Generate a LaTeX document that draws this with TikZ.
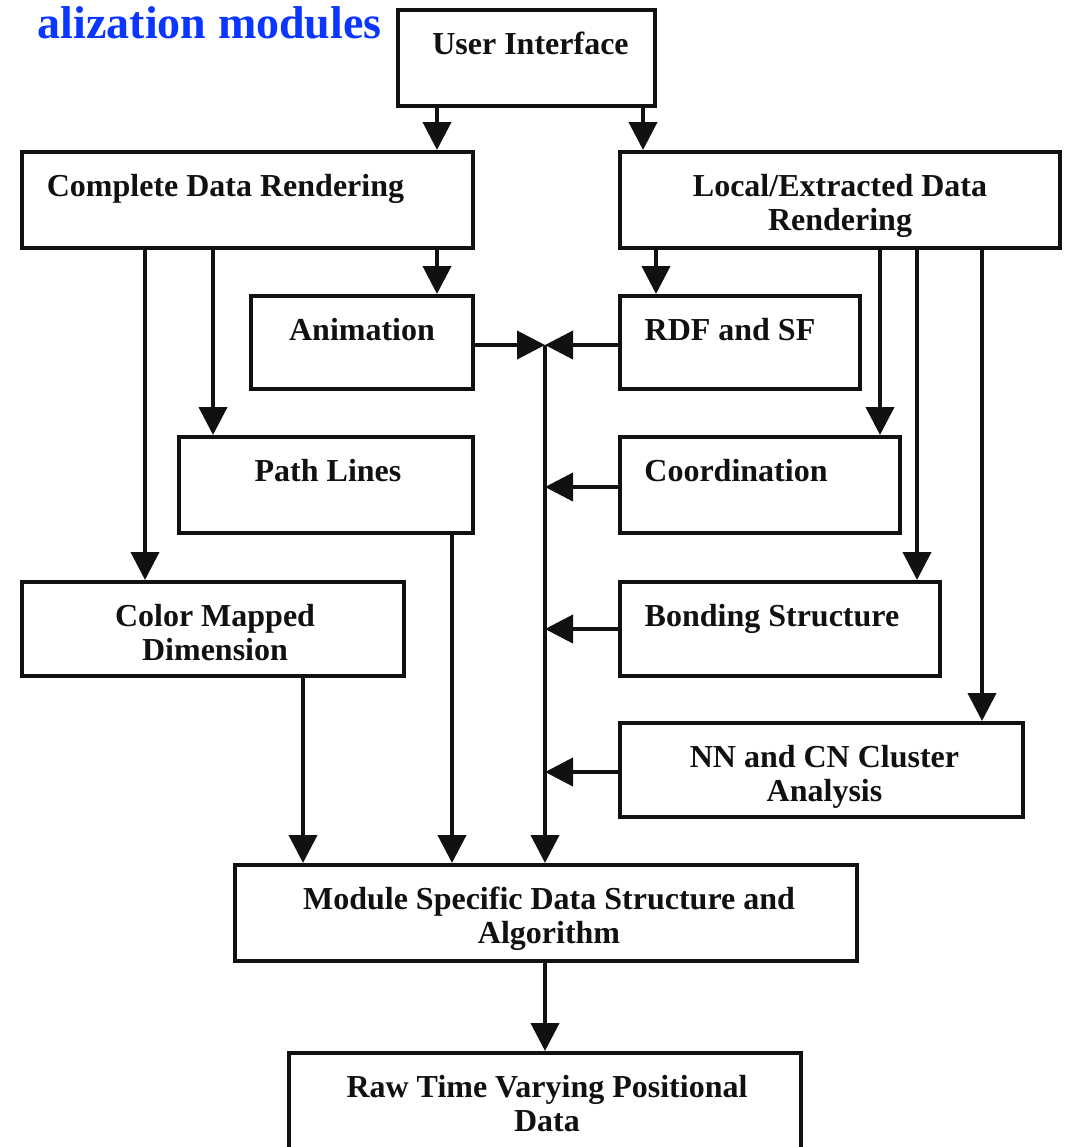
\documentclass[tikz,border=0pt]{standalone}
\usepackage{fontspec}
\setmainfont{Liberation Serif}
\usepackage{xcolor}
\usepackage{tikz}
\usetikzlibrary{arrows.meta,fit,positioning}
\definecolor{ModInk}{HTML}{111111}
\definecolor{ModTitle}{HTML}{0A36FF}
\tikzset{
  modbox/.style={draw=ModInk,line width=2pt,inner sep=0pt},
  modtext/.style={anchor=north,inner sep=0pt,yshift=-12pt,align=center,text=ModInk,
    font=\fontsize{16}{17}\selectfont\bfseries},
  flow/.style={-{Triangle[length=14pt,width=14pt]},draw=ModInk,line width=2pt}
}
\begin{document}
\begin{tikzpicture}[x=0.5pt,y=-0.5pt]
  \useasboundingbox (0,0) rectangle (1068,1147);
  \clip (0,0) rectangle (1068,1147);
  \node[anchor=base east,inner sep=0pt,text=ModTitle,font=\fontsize{23}{28}\selectfont\bfseries]
    (title) at (382,38) {alization modules};
  \node[modbox,fit={(398,10) (655,106)},label={[modtext,xshift=2pt]north:User Interface}] (ui) {};
  \node[modbox,fit={(22,152) (473,248)},label={[modtext,xshift=-11pt]north:Complete Data Rendering}] (cdr) {};
  \node[modbox,fit={(620,152) (1060,248)},label={[modtext]north:Local/Extracted Data\\Rendering}] (ldr) {};
  \node[modbox,fit={(251,296) (473,389)},label={[modtext]north:Animation}] (anim) {};
  \node[modbox,fit={(620,296) (860,389)},label={[modtext,xshift=-5pt]north:RDF and SF}] (rdf) {};
  \node[modbox,fit={(179,437) (473,533)},label={[modtext,xshift=1pt]north:Path Lines}] (path) {};
  \node[modbox,fit={(620,437) (900,533)},label={[modtext,xshift=-12pt]north:Coordination}] (coord) {};
  \node[modbox,fit={(22,582) (404,676)},label={[modtext,xshift=1pt]north:Color Mapped\\Dimension}] (cmd) {};
  \node[modbox,fit={(620,582) (940,676)},label={[modtext,xshift=-4pt]north:Bonding Structure}] (bond) {};
  \node[modbox,fit={(620,723) (1023,817)},label={[modtext,xshift=1.5pt]north:NN and CN Cluster\\Analysis}] (nn) {};
  \node[modbox,fit={(235,865) (857,961)},label={[modtext,xshift=1.5pt]north:Module Specific Data Structure and\\Algorithm}] (msd) {};
  \node[modbox,fit={(289,1053) (801,1170)},label={[modtext,xshift=1pt]north:Raw Time Varying Positional\\Data}] (raw) {};
  \coordinate (hub) at (545,345);
  \draw[flow] (ui.south -| 437,0) -- (cdr.north -| 437,0);
  \draw[flow] (ui.south -| 643,0) -- (ldr.north -| 643,0);
  \draw[flow] (cdr.south -| 437,0) -- (anim.north -| 437,0);
  \draw[flow] (cdr.south -| 213,0) -- (path.north -| 213,0);
  \draw[flow] (cdr.south -| 145,0) -- (cmd.north -| 145,0);
  \draw[flow] (ldr.south -| 656,0) -- (rdf.north -| 656,0);
  \draw[flow] (ldr.south -| 880,0) -- (coord.north -| 880,0);
  \draw[flow] (ldr.south -| 917,0) -- (bond.north -| 917,0);
  \draw[flow] (ldr.south -| 982,0) -- (nn.north -| 982,0);
  \draw[flow] (anim.east |- hub) -- (hub);
  \draw[flow] (rdf.west |- hub) -- (hub);
  \draw[flow] (hub) -- (msd.north -| hub);
  \draw[flow] ([yshift=-1pt]coord.west) -- ([yshift=-1pt]coord.west -| hub);
  \draw[flow] (bond.west) -- (bond.west -| hub);
  \draw[flow] ([yshift=-1pt]nn.west) -- ([yshift=-1pt]nn.west -| hub);
  \draw[flow] (cmd.south -| 303,0) -- (msd.north -| 303,0);
  \draw[flow] (path.south -| 452,0) -- (msd.north -| 452,0);
  \draw[flow] (msd.south -| hub) -- (raw.north -| hub);
\end{tikzpicture}
\end{document}
